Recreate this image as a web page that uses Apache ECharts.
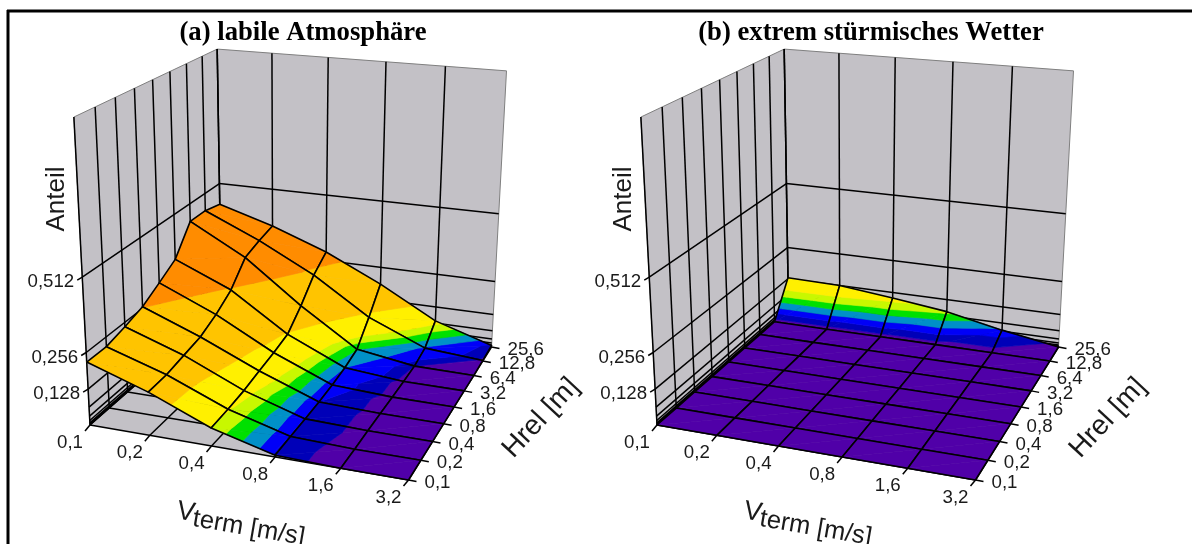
<!DOCTYPE html>
<html>
<head>
<meta charset="utf-8">
<title>Anteil</title>
<style>html,body{margin:0;padding:0;background:#fff}#chart{width:1192px;height:544px}</style>
<script src="https://cdn.jsdelivr.net/npm/echarts@6/dist/echarts.min.js"></script>
</head>
<body>
<div id="chart"></div>
<script>
// axis categories
var speedLabels = ['0,1', '0,2', '0,4', '0,8', '1,6', '3,2'];
var heightLabels = ['0,1', '0,2', '0,4', '0,8', '1,6', '3,2', '6,4', '12,8', '25,6'];
var shareTicks = [0.512, 0.256, 0.128, 0.064, 0.032, 0.016, 0.008, 0.004, 0.002, 0.001];
var shareLabels = ['0,512', '0,256', '0,128'];
var shareMax = 1.024;

// surface values, one row per height (0,1 first), one value per speed
var labileRows = [
	[0.223, 0.152, 0.063, 0.006, 0, 0],
	[0.222, 0.155, 0.067, 0.007, 0, 0],
	[0.240, 0.168, 0.074, 0.007, 0.001, 0],
	[0.262, 0.181, 0.088, 0.008, 0.001, 0],
	[0.302, 0.212, 0.100, 0.012, 0.001, 0],
	[0.344, 0.255, 0.116, 0.020, 0.001, 0],
	[0.445, 0.332, 0.174, 0.036, 0.003, 0],
	[0.445, 0.353, 0.245, 0.108, 0.018, 0.002],
	[0.430, 0.368, 0.290, 0.190, 0.073, 0.006]
];
var stormRows = [
	[0, 0, 0, 0, 0, 0],
	[0, 0, 0, 0, 0, 0],
	[0, 0, 0, 0, 0, 0],
	[0, 0, 0, 0, 0, 0],
	[0, 0, 0, 0, 0, 0],
	[0, 0, 0, 0, 0, 0],
	[0, 0, 0, 0, 0, 0],
	[0, 0, 0, 0, 0, 0],
	[0.132, 0.128, 0.106, 0.080, 0.036, 0]
];

// colour bands, upper limits per panel
var bandColors = ['#5000a8', '#0000b8', '#0000f8', '#0090c8', '#00e000', '#c8f800', '#fff000', '#ffc400', '#ff8c00'];
var labileLimits = [0.003, 0.008, 0.02, 0.035, 0.05, 0.065, 0.12, 0.26, 2];
var stormLimits = [0.008, 0.024, 0.04, 0.058, 0.075, 0.095, 0.15, 0.26, 2];

var wallColor = '#c3c1c6';
var lineColor = '#000';
var textColor = '#1a1a1a';

// perspective of the box, floor corners and vertical vanishing point
var floorCorners = [[90, 425], [408.5, 480], [491.5, 347], [221.5, 309.5]];
var vanish = [285, 4148];
var lift = -0.0764;

function floorMatrix(q) {
	var dx1 = q[1][0] - q[2][0], dx2 = q[3][0] - q[2][0], sx = q[0][0] - q[1][0] + q[2][0] - q[3][0];
	var dy1 = q[1][1] - q[2][1], dy2 = q[3][1] - q[2][1], sy = q[0][1] - q[1][1] + q[2][1] - q[3][1];
	var det = dx1 * dy2 - dx2 * dy1;
	var g = (sx * dy2 - dx2 * sy) / det, h = (dx1 * sy - sx * dy1) / det;
	return {
		a: q[1][0] - q[0][0] + g * q[1][0], b: q[3][0] - q[0][0] + h * q[3][0], c: q[0][0],
		d: q[1][1] - q[0][1] + g * q[1][1], e: q[3][1] - q[0][1] + h * q[3][1], f: q[0][1],
		g: g, h: h
	};
}
var m = floorMatrix(floorCorners);

// u along speed, v along height, z share -> plane coordinates
function project(u, v, z) {
	var t = z / shareMax * lift;
	var w = m.g * u + m.h * v + 1 + t;
	return [
		(m.a * u + m.b * v + m.c + t * vanish[0]) / w,
		(m.d * u + m.e * v + m.f + t * vanish[1]) / w
	];
}

function speedPos(i) { return i / (speedLabels.length - 1); }
function heightPos(i) { return i / (heightLabels.length - 1); }

function clipBelow(poly, limit, keepBelow) {
	var out = [];
	for (var i = 0; i < poly.length; i++) {
		var p = poly[i], q = poly[(i + 1) % poly.length];
		var pIn = keepBelow ? p[2] <= limit : p[2] >= limit;
		var qIn = keepBelow ? q[2] <= limit : q[2] >= limit;
		if (pIn) out.push(p);
		if (pIn !== qIn) {
			var s = (limit - p[2]) / (q[2] - p[2]);
			out.push([p[0] + (q[0] - p[0]) * s, p[1] + (q[1] - p[1]) * s, limit]);
		}
	}
	return out;
}

function makeLine(api, a, b, color, width) {
	var p = api.coord(a), q = api.coord(b);
	return {
		type: 'line',
		shape: { x1: p[0], y1: p[1], x2: q[0], y2: q[1] },
		style: { stroke: color, lineWidth: width }
	};
}

function makePoly(api, pts, fill, stroke, width) {
	return {
		type: 'polygon',
		shape: { points: pts.map(function (p) { return api.coord(p); }) },
		style: { fill: fill, stroke: stroke, lineWidth: width, lineJoin: 'round' }
	};
}

function makeLabel(api, at, dx, dy, text, align) {
	var p = api.coord(at);
	return {
		type: 'text',
		style: {
			x: p[0] + dx, y: p[1] + dy, text: text, fill: textColor,
			font: '18.7px "Liberation Sans"', align: align, verticalAlign: 'middle'
		}
	};
}

// walls, floor, grid lines, ticks and tick labels
function renderBox(params, api) {
	var kids = [];
	kids.push(makePoly(api, [project(0, 0, 0), project(0, 1, 0), project(0, 1, shareMax), project(0, 0, shareMax)], wallColor, '#808080', 1));
	kids.push(makePoly(api, [project(0, 1, 0), project(1, 1, 0), project(1, 1, shareMax), project(0, 1, shareMax)], wallColor, '#808080', 1));
	kids.push(makePoly(api, [project(0, 0, 0), project(1, 0, 0), project(1, 1, 0), project(0, 1, 0)], wallColor, null, 0));
	speedLabels.forEach(function (label, i) {
		var u = speedPos(i);
		kids.push(makeLine(api, project(u, 0, 0), project(u, 1, 0), lineColor, 1.5));
		if (i < speedLabels.length - 1) {
			kids.push(makeLine(api, project(u, 1, 0), project(u, 1, shareMax), lineColor, 1.5));
		}
		var foot = project(u, 0, 0);
		kids.push(makeLine(api, foot, [foot[0] - 5, foot[1] + 6], lineColor, 1.5));
		kids.push(makeLabel(api, foot, -20, 18, label, 'center'));
	});
	heightLabels.forEach(function (label, i) {
		var v = heightPos(i);
		kids.push(makeLine(api, project(0, v, 0), project(1, v, 0), lineColor, 1.5));
		kids.push(makeLine(api, project(0, v, 0), project(0, v, shareMax), lineColor, 1.5));
		var foot = project(1, v, 0);
		kids.push(makeLine(api, foot, [foot[0] + 8, foot[1] + 1.5], lineColor, 1.5));
		kids.push(makeLabel(api, foot, 16, 3, label, 'left'));
	});
	shareTicks.forEach(function (tick, i) {
		kids.push(makeLine(api, project(0, 0, tick), project(0, 1, tick), lineColor, 1.5));
		kids.push(makeLine(api, project(0, 1, tick), project(1, 1, tick), lineColor, 1.5));
		if (i < shareLabels.length) {
			var foot = project(0, 0, tick);
			kids.push(makeLine(api, foot, [foot[0] - 5, foot[1] + 3], lineColor, 1.5));
			kids.push(makeLabel(api, foot, -8, 5, shareLabels[i], 'right'));
		}
	});
	return { type: 'group', children: kids };
}

// one mesh cell, split into two triangles and clipped into colour bands
function cellRenderer(rows, limits) {
	return function (params, api) {
		var h = api.value(0), s = api.value(1);
		var c00 = [speedPos(s), heightPos(h), rows[h][s]];
		var c10 = [speedPos(s + 1), heightPos(h), rows[h][s + 1]];
		var c11 = [speedPos(s + 1), heightPos(h + 1), rows[h + 1][s + 1]];
		var c01 = [speedPos(s), heightPos(h + 1), rows[h + 1][s]];
		var kids = [];
		[[c00, c10, c11], [c00, c11, c01]].forEach(function (tri) {
			var low = -1;
			limits.forEach(function (limit, b) {
				var poly = clipBelow(clipBelow(tri, low, false), limit, true);
				low = limit;
				if (poly.length >= 3) {
					kids.push(makePoly(api, poly.map(function (p) {
						return project(p[0], p[1], p[2]);
					}), bandColors[b], bandColors[b], 0.6));
				}
			});
		});
		kids.push(makePoly(api, [c00, c10, c11, c01].map(function (p) {
			return project(p[0], p[1], p[2]);
		}), 'none', lineColor, 1.6));
		return { type: 'group', children: kids };
	};
}

// back cells first so the front of the mesh covers them
var cells = [];
for (var h = heightLabels.length - 2; h >= 0; h--) {
	for (var s = 0; s < speedLabels.length - 1; s++) {
		cells.push([h, s]);
	}
}

function panelSeries(index, rows, limits) {
	return [
		{
			type: 'custom', xAxisIndex: index, yAxisIndex: index, clip: false, silent: true,
			animation: false, data: [[0, 0]], renderItem: renderBox, encode: { x: 0, y: 1 }
		},
		{
			type: 'custom', xAxisIndex: index, yAxisIndex: index, clip: false, silent: true,
			animation: false, z: 3, data: cells, renderItem: cellRenderer(rows, limits), encode: { x: 0, y: 1 }
		}
	];
}

function hiddenAxis(index, max, inverse) {
	return { type: 'value', gridIndex: index, min: 0, max: max, inverse: inverse, show: false };
}

function axisNames(left) {
	return [
		{
			type: 'text', x: left + 57, y: 199, rotation: Math.PI / 2, z: 10,
			style: { text: 'Anteil', fill: textColor, font: '26px "Liberation Sans"', align: 'center', verticalAlign: 'middle' }
		},
		{
			type: 'group', x: left + 177, y: 511, rotation: -0.17, z: 10,
			children: [
				{ type: 'text', x: 0, y: 0, style: { text: 'V', fill: textColor, font: '27px "Liberation Sans"', verticalAlign: 'middle' } },
				{ type: 'text', x: 17, y: 5, style: { text: 'term [m/s]', fill: textColor, font: '25.5px "Liberation Sans"', verticalAlign: 'middle' } }
			]
		},
		{
			type: 'text', x: left + 541, y: 418, rotation: 0.82, z: 10,
			style: { text: 'Hrel [m]', fill: textColor, font: '28px "Liberation Sans"', align: 'center', verticalAlign: 'middle' }
		}
	];
}

var myChart = echarts.init(document.getElementById('chart'), null, { renderer: 'canvas' });

var titleStyle = { fontFamily: 'Liberation Serif', fontWeight: 'bold', fontSize: 26.7, color: '#000' };

var option = {
	animation: false,
	backgroundColor: '#fff',
	title: [
		{ text: '(a) labile Atmosphäre', left: 298, top: 15, textAlign: 'center', textStyle: titleStyle },
		{ text: '(b) extrem stürmisches Wetter', left: 866, top: 15, textAlign: 'center', textStyle: titleStyle }
	],
	grid: [
		{ left: 0, top: 0, width: 567, height: 544 },
		{ left: 567, top: 0, width: 567, height: 544 }
	],
	xAxis: [hiddenAxis(0, 567, false), hiddenAxis(1, 567, false)],
	yAxis: [hiddenAxis(0, 544, true), hiddenAxis(1, 544, true)],
	series: panelSeries(0, labileRows, labileLimits).concat(panelSeries(1, stormRows, stormLimits)),
	graphic: axisNames(0).concat(axisNames(567)).concat([
		{ type: 'line', z: 10, shape: { x1: 7, y1: 11, x2: 1192, y2: 11 }, style: { stroke: '#000', lineWidth: 3 } },
		{ type: 'line', z: 10, shape: { x1: 8, y1: 10, x2: 8, y2: 544 }, style: { stroke: '#000', lineWidth: 3 } }
	])
};

myChart.setOption(option);
</script>
</body>
</html>
